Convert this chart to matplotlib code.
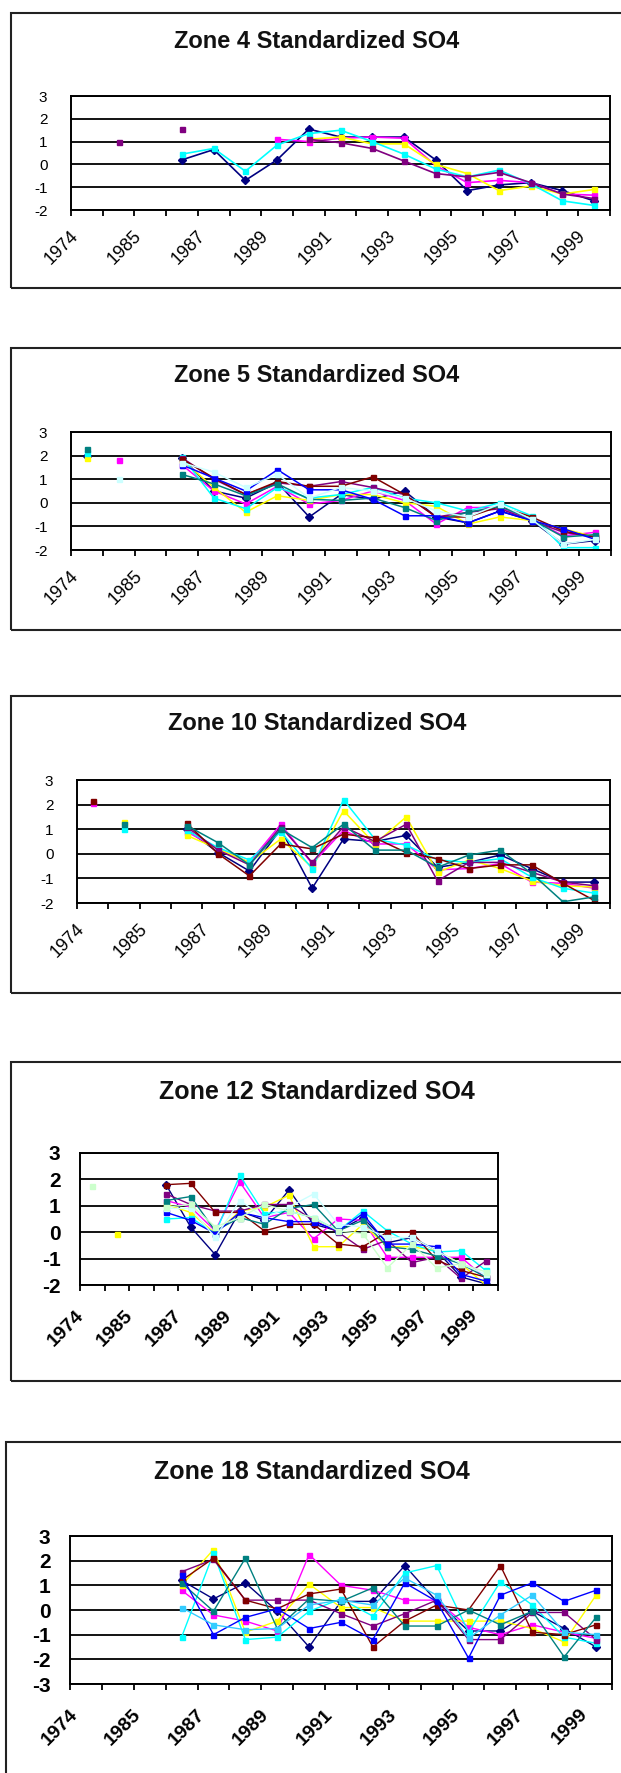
import numpy as np
import matplotlib
matplotlib.use('Agg')
import matplotlib.pyplot as plt
from matplotlib.patches import Rectangle
from matplotlib.transforms import ScaledTranslation

plt.rcParams['font.family'] = ['Liberation Sans', 'DejaVu Sans']

nan = np.nan

# category axis (17 sampling years, labels on every second one)
years = ['1974', '1980', '1985', '1986', '1987', '1988', '1989', '1990', '1991',
         '1992', '1993', '1994', '1995', '1996', '1997', '1998', '1999']
shown_years = ['1974', '1985', '1987', '1989', '1991', '1993', '1995', '1997', '1999']

NAVY, MAG, YEL, CYAN = '#000080', '#FF00FF', '#FFFF00', '#00FFFF'
PURP, MAROON, TEAL, BLUE = '#800080', '#800000', '#008080', '#0000FF'
LCYAN, LGREEN, SKY = '#CCFFFF', '#CCFFCC', '#33CCFF'

# ---- Zone 4
zone4_colors = [NAVY, MAG, YEL, CYAN, PURP]
zone4_values = [
    [nan, nan, nan, 0.2, 0.65, -0.7, 0.2, 1.55, 1.2, 1.2, 1.2, 0.2, -1.15, -0.9, -0.8, -1.15, -1.6],
    [nan, nan, nan, nan, nan, nan, 1.1, 1.0, 1.15, 1.2, 1.15, -0.05, -0.8, -0.7, -0.8, -1.3, -1.35],
    [nan, nan, nan, nan, nan, nan, nan, 1.1, 1.2, 0.9, 0.9, 0.0, -0.4, -1.15, -0.95, -1.3, -1.1],
    [nan, nan, nan, 0.45, 0.7, -0.3, 0.85, 1.35, 1.5, 1.0, 0.45, -0.2, -0.55, -0.25, -0.85, -1.6, -1.8],
    [nan, 1.0, nan, 1.55, nan, nan, nan, 1.1, 0.95, 0.7, 0.15, -0.4, -0.55, -0.35, -0.8, -1.3, -1.5],
]

# ---- Zone 5
zone5_colors = [NAVY, MAG, YEL, CYAN, PURP, MAROON, TEAL, BLUE, LCYAN]
zone5_values = [
    [2.0, nan, nan, 1.9, 0.5, 0.2, 0.85, -0.6, 0.35, 0.15, 0.5, -0.6, -0.85, -0.35, -0.75, -1.75, -1.6],
    [nan, 1.8, nan, 1.6, 0.5, -0.05, 0.7, -0.05, 0.1, 0.5, 0.1, -0.9, -0.2, -0.2, -0.7, -1.4, -1.25],
    [1.9, nan, nan, 1.8, 0.65, -0.4, 0.3, 0.1, 0.35, 0.35, 0.0, -0.15, -0.9, -0.6, -0.75, -1.1, -1.45],
    [2.1, nan, nan, 1.95, 0.2, -0.25, 0.65, 0.2, 0.35, 0.65, 0.2, 0.0, -0.35, 0.0, -0.55, -1.9, -1.9],
    [nan, nan, nan, 1.9, 1.0, 0.35, 0.85, 0.7, 0.9, 0.65, 0.35, -0.6, -0.4, -0.25, -0.75, -1.25, -1.45],
    [nan, nan, nan, 1.85, 1.05, 0.35, 0.9, 0.7, 0.7, 1.1, 0.35, -0.6, -0.6, -0.15, -0.6, -1.2, -1.45],
    [2.3, nan, nan, 1.2, 0.8, 0.3, 0.8, 0.15, 0.1, 0.2, -0.2, -0.75, -0.4, -0.15, -0.7, -1.45, -1.35],
    [nan, nan, nan, 1.6, 1.05, 0.5, 1.4, 0.55, 0.55, 0.15, -0.55, -0.55, -0.85, -0.35, -0.75, -1.1, -1.55],
    [nan, 1.0, nan, 1.7, 1.3, 0.65, 1.2, 0.2, 0.65, 0.5, 0.2, -0.35, -0.6, -0.05, -0.7, -1.75, -1.55],
]

# ---- Zone 10
zone10_colors = [NAVY, MAG, YEL, CYAN, PURP, MAROON, TEAL]
zone10_values = [
    [nan, nan, nan, 1.0, 0.05, -0.7, 1.0, -1.4, 0.6, 0.5, 0.75, -0.55, -0.35, -0.05, -0.6, -1.15, -1.15],
    [2.05, nan, nan, 0.9, 0.2, -0.35, 1.2, -0.4, 0.95, 0.4, 0.4, -0.65, -0.6, -0.4, -1.15, -1.2, -1.4],
    [nan, 1.3, nan, 0.75, 0.2, -0.35, 0.6, -0.55, 1.75, 0.4, 1.5, -0.75, -0.25, -0.6, -1.1, -1.3, -1.35],
    [nan, 1.0, nan, 0.95, 0.25, -0.25, 0.9, -0.6, 2.2, 0.6, 0.35, -0.25, -0.35, -0.2, -0.95, -1.4, -1.6],
    [nan, nan, nan, 1.1, 0.15, -0.45, 1.1, -0.35, 1.1, 0.5, 1.2, -1.1, -0.35, -0.35, -0.75, -1.15, -1.3],
    [2.15, nan, nan, 1.25, 0.0, -0.9, 0.4, 0.2, 0.8, 0.65, 0.05, -0.2, -0.6, -0.45, -0.45, -1.2, -1.9],
    [nan, 1.2, nan, 1.15, 0.45, -0.45, 1.0, 0.25, 1.2, 0.15, 0.15, -0.55, -0.05, 0.15, -0.8, -1.95, -1.75],
]

# ---- Zone 12
zone12_colors = [NAVY, MAG, YEL, CYAN, PURP, MAROON, TEAL, BLUE, LCYAN, LGREEN]
zone12_values = [
    [nan, nan, nan, 1.8, 0.2, -0.85, 0.8, 0.45, 1.6, 0.3, 0.05, 0.55, -0.4, -0.2, -0.7, -1.7, -1.95],
    [nan, nan, nan, 1.2, 0.95, 0.05, 1.9, 0.55, 0.75, -0.25, 0.5, 0.45, -0.95, -0.95, -0.95, -0.95, -1.75],
    [nan, -0.05, nan, 1.05, 0.75, -0.05, 0.8, 0.95, 1.4, -0.55, -0.55, 0.3, -0.55, -0.55, -0.7, -1.2, -2.0],
    [nan, nan, nan, 0.5, 0.55, -0.05, 2.15, 0.7, 0.8, 0.55, 0.05, 0.8, 0.05, -0.45, -0.75, -0.7, -1.45],
    [nan, nan, nan, 1.45, 1.05, 0.8, 0.8, 1.05, 1.05, 0.45, 0.0, -0.65, -0.3, -1.15, -0.95, -1.75, -1.1],
    [nan, nan, nan, 1.8, 1.85, 0.75, 0.75, 0.05, 0.3, 0.3, -0.45, -0.55, 0.0, 0.0, -1.05, -1.45, -1.7],
    [nan, nan, nan, 1.2, 1.35, 0.05, 0.55, 0.3, 0.9, 1.05, 0.05, 0.45, -0.55, -0.65, -0.9, -1.2, -1.7],
    [nan, nan, nan, 0.75, 0.45, -0.05, 0.75, 0.55, 0.4, 0.4, 0.05, 0.7, -0.45, -0.45, -0.55, -1.6, -1.85],
    [nan, nan, nan, 0.9, 0.9, -0.2, 1.2, 0.55, 0.95, 1.45, 0.3, 0.2, -0.2, -0.2, -0.7, -1.2, -1.6],
    [1.75, nan, nan, 0.95, 1.05, 0.2, 0.55, 1.05, 0.8, 0.55, 0.05, -0.05, -1.35, -0.45, -1.35, -1.2, -1.5],
]

# ---- Zone 18
zone18_colors = [NAVY, MAG, YEL, CYAN, PURP, MAROON, TEAL, BLUE, SKY]
zone18_values = [
    [nan, nan, nan, 1.2, 0.45, 1.1, -0.05, -1.5, 0.35, 0.35, 1.8, 0.35, -0.85, -0.85, -0.05, -0.75, -1.5],
    [nan, nan, nan, 0.8, -0.2, -0.45, -0.85, 2.25, 1.0, 0.8, 0.4, 0.4, -0.7, -1.0, -0.6, -0.9, -1.15],
    [nan, nan, nan, 1.0, 2.45, -0.9, -0.45, 1.05, 0.1, 0.1, -0.45, -0.45, -0.45, -0.45, -0.75, -1.3, 0.6],
    [nan, nan, nan, -1.1, 2.3, -1.2, -1.1, -0.05, 0.45, -0.25, 1.5, 1.8, -0.9, 1.15, 0.2, -1.1, -1.35],
    [nan, nan, nan, 1.55, 2.05, 0.4, 0.4, 0.4, -0.15, -0.65, -0.15, 0.4, -1.2, -1.2, -0.1, -0.1, -1.2],
    [nan, nan, nan, 1.2, 2.1, 0.4, 0.05, 0.65, 0.85, -1.5, -0.45, 0.2, 0.0, 1.8, -0.9, -1.0, -0.6],
    [nan, nan, nan, 1.1, -0.05, 2.1, -0.75, 0.45, 0.35, 0.9, -0.65, -0.65, 0.0, -0.6, -0.05, -1.9, -0.3],
    [nan, nan, nan, 1.4, -1.0, -0.3, 0.05, -0.75, -0.5, -1.2, 1.1, 0.35, -1.95, 0.6, 1.1, 0.35, 0.8],
    [nan, nan, nan, 0.1, -0.6, -0.8, -0.75, 0.2, 0.4, 0.2, 1.3, 0.6, -1.15, -0.2, 0.6, -0.9, -1.0],
]

W, H = 621, 1773
fig = plt.figure(figsize=(W / 100, H / 100), dpi=100)


def frac(x0, y0, x1, y1):
    return [x0 / W, 1 - y1 / H, (x1 - x0) / W, (y1 - y0) / H]


def draw_zone(title, colors, values, box, plot, title_y, ylim, bold, lw):
    x0, y0, x1, y1 = box
    fig.add_artist(Rectangle((x0 / W, 1 - y1 / H), (x1 - x0) / W, (y1 - y0) / H,
                             transform=fig.transFigure, fill=False, lw=1.5, ec='#222222'))
    fig.text((x0 + 306) / W, 1 - title_y / H, title, ha='center', va='center',
             fontsize=17 if not bold else 18, fontweight='bold', color='#111111')

    ax = fig.add_axes(frac(*plot))
    xs = np.arange(len(years)) + 0.5
    for c, v in zip(colors, values):
        mk = 'D' if c == NAVY else 's'
        ax.plot(xs, v, color=c, lw=lw, marker=mk, ms=3.6, mec=c, mfc=c)

    ax.set_xlim(0, len(years))
    ax.set_ylim(*ylim)
    yt = list(range(ylim[0], ylim[1] + 1))
    ax.set_yticks(yt)
    ax.set_yticklabels([str(t) for t in yt])
    ax.set_xticks(xs[::2])
    ax.set_xticklabels(shown_years)
    ax.set_xticks(np.arange(len(years) + 1), minor=True)
    ax.grid(axis='y', color='black', lw=1.3)
    ax.set_axisbelow(True)
    for s in ax.spines.values():
        s.set_linewidth(1.4)
    weight = 'bold' if bold else 'normal'
    ax.tick_params(axis='y', length=0, pad=14 if bold else 17,
                   labelsize=15 if bold else 11)
    ax.tick_params(axis='x', which='major', length=0, pad=20 if bold else 17,
                   labelsize=14 if bold else 13)
    ax.tick_params(axis='x', which='minor', length=4.5, width=1.3, direction='out')
    off = ScaledTranslation(-0.11, 0, fig.dpi_scale_trans)
    for lab in ax.get_xticklabels():
        lab.set_rotation(45)
        lab.set_ha('right')
        lab.set_va('center')
        lab.set_rotation_mode('anchor')
        lab.set_fontweight(weight)
        lab.set_transform(lab.get_transform() + off)
    for lab in ax.get_yticklabels():
        lab.set_fontweight(weight)
    return ax


draw_zone('Zone 4 Standardized SO4', zone4_colors, zone4_values,
          (11, 13, 660, 288), (71, 96, 610, 210), 41, (-2, 3), False, 1.2)
draw_zone('Zone 5 Standardized SO4', zone5_colors, zone5_values,
          (11, 348, 660, 630), (71, 432, 611, 550), 375, (-2, 3), False, 1.1)
draw_zone('Zone 10 Standardized SO4', zone10_colors, zone10_values,
          (11, 696, 660, 993), (77, 780, 610, 903), 723, (-2, 3), False, 1.1)
draw_zone('Zone 12 Standardized SO4', zone12_colors, zone12_values,
          (11, 1062, 660, 1381), (80, 1153, 498, 1285), 1092, (-2, 3), True, 1.0)
draw_zone('Zone 18 Standardized SO4', zone18_colors, zone18_values,
          (6, 1442, 660, 1800), (70, 1536, 612, 1684), 1472, (-3, 3), True, 1.0)

fig.savefig('out.png', dpi=100, facecolor='white')
